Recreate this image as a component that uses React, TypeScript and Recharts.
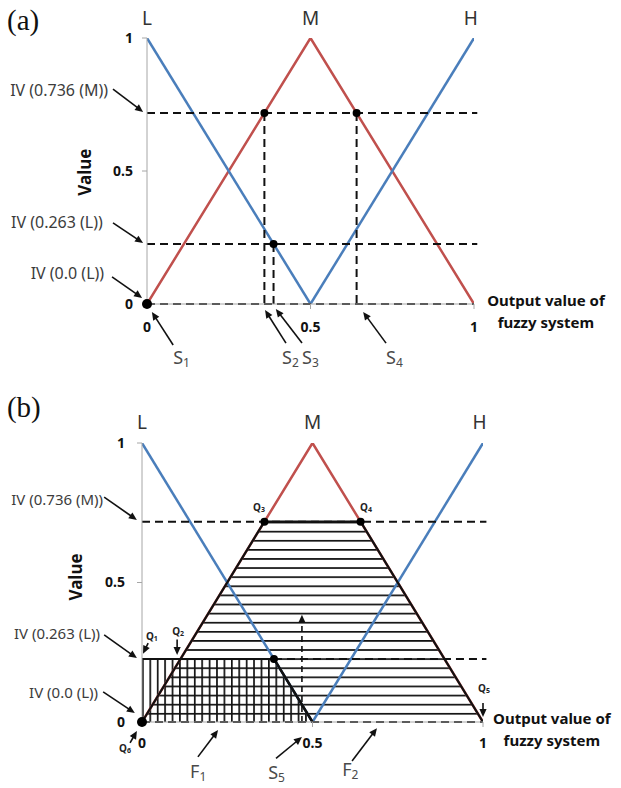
import React from 'react';
import { ComposedChart, Line, Area, XAxis, YAxis, ReferenceLine, ReferenceDot } from 'recharts';

// ---------- data ----------
const axisTicks = [0, 0.5, 1];
const lowMF = [{ x: 0, y: 1 }, { x: 0.5, y: 0 }];
const highMF = [{ x: 0.5, y: 0 }, { x: 1, y: 1 }];
const midMF = [{ x: 0, y: 0 }, { x: 0.5, y: 1 }, { x: 1, y: 0 }];
const levelM = 0.718; // IV (0.736 (M)) as drawn
const levelL = 0.226; // IV (0.263 (L)) as drawn
const cutS2 = 0.359;
const cutS3 = 0.387;
const cutS4 = 0.641;
const clippedM = [{ x: 0, y: 0 }, { x: cutS2, y: levelM }, { x: cutS4, y: levelM }, { x: 1, y: 0 }];
const clippedL = [{ x: 0, y: levelL }, { x: cutS3, y: levelL }, { x: 0.5, y: 0 }];
const clippedLTail = [{ x: cutS3, y: levelL }, { x: 0.5, y: 0 }];

type Seg = { from: [number, number]; to: [number, number]; dash?: string };
type Note = { text: string; sub?: string; x: number; y: number; anchor?: 'start' | 'middle' | 'end'; kind: string };

// panel (a) annotations
const dashesA: Seg[] = [
  { from: [0, levelM], to: [1.01, levelM] },
  { from: [0, levelL], to: [1.01, levelL] },
  { from: [0, 0], to: [1.0, 0] },
  { from: [cutS2, levelM], to: [cutS2, 0] },
  { from: [cutS3, levelL], to: [cutS3, 0] },
  { from: [cutS4, levelM], to: [cutS4, 0] },
];
const dotsA = [
  { x: 0, y: 0, r: 5 },
  { x: cutS2, y: levelM, r: 4 },
  { x: cutS3, y: levelL, r: 4 },
  { x: cutS4, y: levelM, r: 4 },
];
const arrowsA: Seg[] = [
  { from: [-0.104, 0.808], to: [-0.012, 0.722] },
  { from: [-0.104, 0.305], to: [-0.012, 0.229] },
  { from: [-0.107, 0.102], to: [-0.015, 0.023] },
  { from: [0.08, -0.154], to: [0.015, -0.03] },
  { from: [0.425, -0.147], to: [0.361, -0.023] },
  { from: [0.474, -0.147], to: [0.394, -0.019] },
  { from: [0.731, -0.147], to: [0.661, -0.03] },
];
const notesA: Note[] = [
  { text: '(a)', x: -0.428, y: 1.068, anchor: 'start', kind: 'panel' },
  { text: 'L', x: 0, y: 1.077, anchor: 'middle', kind: 'mf' },
  { text: 'M', x: 0.5, y: 1.077, anchor: 'middle', kind: 'mf' },
  { text: 'H', x: 0.99, y: 1.077, anchor: 'middle', kind: 'mf' },
  { text: 'IV (0.736 (M))', x: -0.119, y: 0.805, anchor: 'end', kind: 'iv' },
  { text: 'IV (0.263 (L))', x: -0.135, y: 0.308, anchor: 'end', kind: 'iv' },
  { text: 'IV (0.0 (L))', x: -0.131, y: 0.117, anchor: 'end', kind: 'iv' },
  { text: 'Value', x: -0.19, y: 0.496, anchor: 'middle', kind: 'value' },
  { text: 'Output value of', x: 1.22, y: 0.015, anchor: 'middle', kind: 'axis' },
  { text: 'fuzzy system', x: 1.22, y: -0.068, anchor: 'middle', kind: 'axis' },
  { text: 'S', sub: '1', x: 0.08, y: -0.199, anchor: 'start', kind: 'sym' },
  { text: 'S', sub: '2', x: 0.413, y: -0.199, anchor: 'start', kind: 'sym' },
  { text: 'S', sub: '3', x: 0.474, y: -0.199, anchor: 'start', kind: 'sym' },
  { text: 'S', sub: '4', x: 0.731, y: -0.199, anchor: 'start', kind: 'sym' },
];

// panel (b) annotations
const dashesB: Seg[] = [
  { from: [0, levelM], to: [1.01, levelM] },
  { from: [cutS3, levelL], to: [1.01, levelL] },
  { from: [0, 0], to: [1.0, 0] },
];
const dotsB = [
  { x: 0, y: 0, r: 5 },
  { x: cutS2, y: levelM, r: 4 },
  { x: cutS4, y: levelM, r: 4 },
  { x: cutS3, y: levelL, r: 4 },
];
const arrowsB: Seg[] = [
  { from: [-0.111, 0.806], to: [-0.015, 0.724] },
  { from: [-0.111, 0.312], to: [-0.015, 0.229] },
  { from: [-0.114, 0.108], to: [-0.021, 0.032] },
  { from: [0.018, 0.283], to: [0.003, 0.245] },
  { from: [0.103, 0.296], to: [0.103, 0.24] },
  { from: [1.0, 0.068], to: [1.0, 0.018] },
  { from: [-0.035, -0.075], to: [-0.015, -0.032] },
  { from: [0.164, -0.125], to: [0.223, -0.029] },
  { from: [0.393, -0.13], to: [0.469, -0.054] },
  { from: [0.616, -0.14], to: [0.689, -0.022] },
  { from: [0.469, 0], to: [0.469, 0.384], dash: '6 4' },
];
const notesB: Note[] = [
  { text: '(b)', x: -0.396, y: 1.129, anchor: 'start', kind: 'panel' },
  { text: 'L', x: 0, y: 1.075, anchor: 'middle', kind: 'mf' },
  { text: 'M', x: 0.5, y: 1.075, anchor: 'middle', kind: 'mf' },
  { text: 'H', x: 0.99, y: 1.075, anchor: 'middle', kind: 'mf' },
  { text: 'IV (0.736  (M))', x: -0.114, y: 0.799, anchor: 'end', kind: 'ivb' },
  { text: 'IV (0.263  (L))', x: -0.123, y: 0.319, anchor: 'end', kind: 'ivb' },
  { text: 'IV (0.0  (L))', x: -0.129, y: 0.108, anchor: 'end', kind: 'ivb' },
  { text: 'Value', x: -0.196, y: 0.52, anchor: 'middle', kind: 'value' },
  { text: 'Output value of', x: 1.202, y: 0.014, anchor: 'middle', kind: 'axis' },
  { text: 'fuzzy system', x: 1.202, y: -0.065, anchor: 'middle', kind: 'axis' },
  { text: 'Q', sub: '1', x: 0.029, y: 0.308, anchor: 'middle', kind: 'q' },
  { text: 'Q', sub: '2', x: 0.106, y: 0.326, anchor: 'middle', kind: 'q' },
  { text: 'Q', sub: '3', x: 0.343, y: 0.771, anchor: 'middle', kind: 'q' },
  { text: 'Q', sub: '4', x: 0.657, y: 0.771, anchor: 'middle', kind: 'q' },
  { text: 'Q', sub: '5', x: 1.003, y: 0.122, anchor: 'middle', kind: 'q' },
  { text: 'Q', sub: '6', x: -0.05, y: -0.093, anchor: 'middle', kind: 'q' },
  { text: 'F', sub: '1', x: 0.141, y: -0.175, anchor: 'start', kind: 'sym' },
  { text: 'S', sub: '5', x: 0.37, y: -0.178, anchor: 'start', kind: 'sym' },
  { text: 'F', sub: '2', x: 0.587, y: -0.17, anchor: 'start', kind: 'sym' },
];

// ---------- styles ----------
const SANS = '"Noto Sans", "Open Sans", sans-serif';
const BLUE = '#4a7ebb';
const RED = '#c0504d';
const kindStyle: Record<string, any> = {
  panel: { fontSize: 29, fontFamily: '"Liberation Serif", serif', fill: '#111', subSize: 0 },
  mf: { fontSize: 19, fontFamily: SANS, fill: '#333', subSize: 0 },
  iv: { fontSize: 16, fontFamily: SANS, fill: '#3c3c3c', subSize: 0 },
  ivb: { fontSize: 15, fontFamily: SANS, fill: '#3c3c3c', subSize: 0 },
  value: { fontSize: 17, fontFamily: SANS, fill: '#111', fontWeight: 700, subSize: 0 },
  axis: { fontSize: 15, fontFamily: SANS, fill: '#111', fontWeight: 700, subSize: 0 },
  sym: { fontSize: 18, fontFamily: SANS, fill: '#4a4a4a', subSize: 12, subDy: 5 },
  q: { fontSize: 10, fontFamily: SANS, fill: '#222', fontWeight: 700, subSize: 7, subDy: 2 },
};
const tickStyle = { fontSize: 14, fontWeight: 700, fill: '#111', fontFamily: SANS };

const makeNoteShape = (n: Note) => (p: any) => {
  const s = kindStyle[n.kind];
  const { subSize, subDy, ...txt } = s;
  const transform = n.kind === 'value' ? `rotate(-90 ${p.cx} ${p.cy})` : undefined;
  return (
    <text x={p.cx} y={p.cy} textAnchor={n.anchor || 'middle'} dominantBaseline="central" transform={transform} {...txt}>
      {n.text}
      {n.sub ? (
        <tspan dy={subDy} fontSize={subSize}>
          {n.sub}
        </tspan>
      ) : null}
    </text>
  );
};

const makeArrowShape = (dash?: string) => (p: any) => {
  const { x1, y1, x2, y2 } = p;
  const dx = x2 - x1;
  const dy = y2 - y1;
  const len = Math.hypot(dx, dy) || 1;
  const ux = dx / len;
  const uy = dy / len;
  const hl = 8;
  const hw = 3.6;
  const bx = x2 - ux * hl;
  const by = y2 - uy * hl;
  const pts = `${x2},${y2} ${bx - uy * hw},${by + ux * hw} ${bx + uy * hw},${by - ux * hw}`;
  return (
    <g>
      <line x1={x1} y1={y1} x2={bx + ux * 1} y2={by + uy * 1} stroke="#111" strokeWidth={1.6} strokeDasharray={dash} />
      <polygon points={pts} fill="#111" />
    </g>
  );
};

const renderDashes = (list: Seg[], key: string) =>
  list.map((d, i) => (
    <ReferenceLine
      key={key + i}
      segment={[{ x: d.from[0], y: d.from[1] }, { x: d.to[0], y: d.to[1] }]}
      stroke="#111"
      strokeWidth={2}
      strokeDasharray="8 5"
      ifOverflow="visible"
    />
  ));
const renderArrows = (list: Seg[], key: string) =>
  list.map((a, i) => (
    <ReferenceLine
      key={key + i}
      segment={[{ x: a.from[0], y: a.from[1] }, { x: a.to[0], y: a.to[1] }]}
      ifOverflow="visible"
      shape={makeArrowShape(a.dash)}
    />
  ));
const renderNotes = (list: Note[], key: string) =>
  list.map((n, i) => <ReferenceDot key={key + i} x={n.x} y={n.y} r={1} ifOverflow="visible" shape={makeNoteShape(n)} />);
const renderDots = (list: { x: number; y: number; r: number }[], key: string) =>
  list.map((d, i) => (
    <ReferenceDot key={key + i} x={d.x} y={d.y} r={d.r} fill="#000" stroke="#000" strokeWidth={0} ifOverflow="visible" />
  ));

const axes = (tickMarginX: number, tickMarginY: number) => [
  <XAxis
    key="x"
    type="number"
    dataKey="x"
    domain={[0, 1]}
    ticks={axisTicks}
    interval={0}
    allowDataOverflow
    height={30}
    tickSize={5}
    tickMargin={tickMarginX}
    stroke="#a6a6a6"
    tick={tickStyle}
  />,
  <YAxis
    key="y"
    type="number"
    domain={[0, 1]}
    ticks={axisTicks}
    interval={0}
    allowDataOverflow
    width={30}
    tickSize={5}
    tickMargin={tickMarginY}
    stroke="#a6a6a6"
    tick={tickStyle}
  />,
];

const ChartA = () => (
  <ComposedChart width={621} height={390} margin={{ top: 38, right: 147, bottom: 56, left: 117 }}>
    {axes(13, 9)}
    <Line data={midMF} dataKey="y" type="linear" stroke={RED} strokeWidth={2.5} dot={false} isAnimationActive={false} />
    <Line data={lowMF} dataKey="y" type="linear" stroke={BLUE} strokeWidth={2.5} dot={false} isAnimationActive={false} />
    <Line data={highMF} dataKey="y" type="linear" stroke={BLUE} strokeWidth={2.5} dot={false} isAnimationActive={false} />
    {renderDashes(dashesA, 'da')}
    {renderDots(dotsA, 'pa')}
    {renderArrows(arrowsA, 'aa')}
    {renderNotes(notesA, 'na')}
  </ComposedChart>
);

const ChartB = () => (
  <ComposedChart width={621} height={398} margin={{ top: 53, right: 138, bottom: 36, left: 112 }}>
    <defs>
      <pattern id="hatchH" patternUnits="objectBoundingBox" x={0} y={0} width={1} height={1 / 22}>
        <rect x={0} y={0} width={2000} height={1.7} fill="#111" />
      </pattern>
      <pattern id="hatchV" patternUnits="objectBoundingBox" x={0} y={0} width={1 / 23} height={1}>
        <rect x={0} y={0} width={1.7} height={2000} fill="#111" />
      </pattern>
    </defs>
    {axes(11, 12)}
    <Area data={clippedM} dataKey="y" type="linear" stroke="none" fill="url(#hatchH)" fillOpacity={1} isAnimationActive={false} />
    <Area data={clippedL} dataKey="y" type="linear" stroke="none" fill="url(#hatchV)" fillOpacity={1} isAnimationActive={false} />
    <Line data={midMF} dataKey="y" type="linear" stroke={RED} strokeWidth={2.5} dot={false} isAnimationActive={false} />
    <Line data={lowMF} dataKey="y" type="linear" stroke={BLUE} strokeWidth={2.5} dot={false} isAnimationActive={false} />
    <Line data={highMF} dataKey="y" type="linear" stroke={BLUE} strokeWidth={2.5} dot={false} isAnimationActive={false} />
    {renderDashes(dashesB, 'db')}
    <Line data={clippedM} dataKey="y" type="linear" stroke="#111" strokeWidth={2.2} dot={false} isAnimationActive={false} />
    <Line data={clippedL} dataKey="y" type="linear" stroke="#111" strokeWidth={2} dot={false} isAnimationActive={false} />
    <Line data={clippedLTail} dataKey="y" type="linear" stroke="#111" strokeWidth={2.5} dot={false} isAnimationActive={false} />
    {renderDots(dotsB, 'pb')}
    {renderArrows(arrowsB, 'ab')}
    {renderNotes(notesB, 'nb')}
  </ComposedChart>
);

export default function App() {
  return (
    <div style={{ position: 'absolute', left: 0, top: 0, width: 621, height: 788, background: '#fff' }}>
      <div style={{ position: 'absolute', left: 0, top: 0 }}>
        <ChartA />
      </div>
      <div style={{ position: 'absolute', left: 0, top: 390 }}>
        <ChartB />
      </div>
    </div>
  );
}
